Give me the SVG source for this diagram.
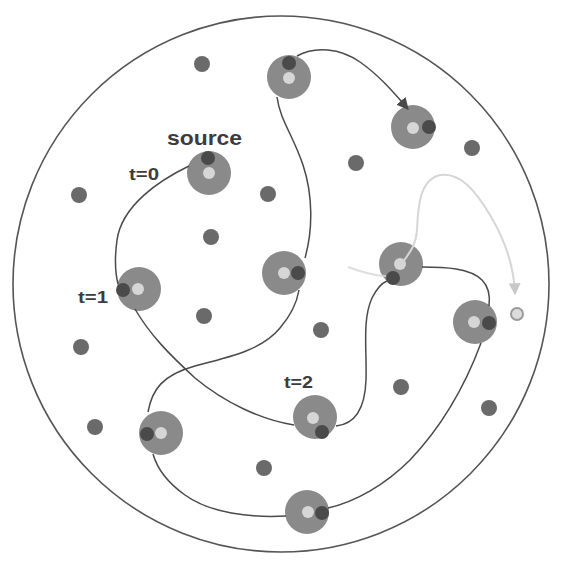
<svg xmlns="http://www.w3.org/2000/svg" width="562" height="564" viewBox="0 0 562 564">
<defs>
<style>
.halo{fill:#8a8a8a}
.dark{fill:#4a4a4a}
.light{fill:#d6d6d6}
.dot{fill:#6a6a6a}
.edge{fill:none;stroke:#4a4a4a;stroke-width:1.5}
.ghost{fill:none;stroke:#d6d6d6;stroke-width:2}
.lbl{font-family:"Liberation Sans",Arial,sans-serif;font-weight:bold;fill:#3c3c3c}
</style>
<marker id="arrD" viewBox="0 0 10 10" refX="9" refY="5" markerWidth="12" markerHeight="12" markerUnits="userSpaceOnUse" orient="auto">
<path d="M0,0 L10,5 L0,10 z" fill="#4a4a4a"/>
</marker>
<marker id="arrL" viewBox="0 0 10 10" refX="9" refY="5" markerWidth="12" markerHeight="12" markerUnits="userSpaceOnUse" orient="auto">
<path d="M0,0 L10,5 L0,10 z" fill="#c8c8c8"/>
</marker>
</defs>
<rect width="562" height="564" fill="#fff"/>
<circle id="domain" cx="281" cy="284" r="268" fill="none" stroke="#555" stroke-width="1.6"/>

<g id="scatter">
<circle class="dot" cx="202" cy="64" r="8"/>
<circle class="dot" cx="79" cy="195" r="8"/>
<circle class="dot" cx="268" cy="194" r="8"/>
<circle class="dot" cx="356" cy="163" r="8"/>
<circle class="dot" cx="472" cy="148" r="8"/>
<circle class="dot" cx="211" cy="237" r="8"/>
<circle class="dot" cx="204" cy="316" r="8"/>
<circle class="dot" cx="81" cy="347" r="8"/>
<circle class="dot" cx="321" cy="330" r="8"/>
<circle class="dot" cx="401" cy="387" r="8"/>
<circle class="dot" cx="489" cy="408" r="8"/>
<circle class="dot" cx="95" cy="427" r="8"/>
<circle class="dot" cx="264" cy="468" r="8"/>
</g>

<g id="n-source"><circle class="halo" cx="209" cy="173" r="22"/><circle class="dark" cx="208" cy="158" r="7"/><circle class="light" cx="209" cy="173" r="6"/></g>
<g id="n-top"><circle class="halo" cx="289" cy="77" r="22"/><circle class="dark" cx="289" cy="63" r="7"/><circle class="light" cx="289" cy="78" r="6"/></g>
<g id="n-upright"><circle class="halo" cx="413" cy="127" r="22"/><circle class="dark" cx="429" cy="127" r="7"/><circle class="light" cx="413" cy="128" r="6"/></g>
<g id="n-center"><circle class="halo" cx="284" cy="273" r="22"/><circle class="dark" cx="298" cy="273" r="7"/><circle class="light" cx="284" cy="273" r="6"/></g>
<g id="n-t1"><circle class="halo" cx="139" cy="289" r="22"/><circle class="dark" cx="123" cy="290" r="7"/><circle class="light" cx="138" cy="289" r="6"/></g>
<g id="n-midright"><circle class="halo" cx="401" cy="264" r="22"/><circle class="dark" cx="393" cy="278" r="7"/><circle class="light" cx="400" cy="264" r="6"/></g>
<g id="n-farright"><circle class="halo" cx="475" cy="322" r="22"/><circle class="dark" cx="489" cy="323" r="7"/><circle class="light" cx="474" cy="322" r="6"/></g>
<g id="n-t2"><circle class="halo" cx="315" cy="417" r="22"/><circle class="dark" cx="322" cy="432" r="7"/><circle class="light" cx="313" cy="418" r="6"/></g>
<g id="n-botleft"><circle class="halo" cx="161" cy="433" r="22"/><circle class="dark" cx="147" cy="434" r="7"/><circle class="light" cx="161" cy="433" r="6"/></g>
<g id="n-bottom"><circle class="halo" cx="307" cy="512" r="22"/><circle class="dark" cx="322" cy="513" r="7"/><circle class="light" cx="308" cy="512" r="6"/></g>
<g id="n-target"><circle cx="517" cy="314" r="6" fill="#dcdcdc" stroke="#9a9a9a" stroke-width="2"/></g>

<g id="connectors">
<path class="edge" d="M189,166 C160,180 122,205 117,240 C114,262 116,276 118,284"/>
<path class="edge" d="M135,309 C150,335 170,355 195,378 C225,403 262,420 294,425"/>
<path class="edge" d="M336,426 C356,424 365,408 366,380 C367,350 362,320 372,298 C377,288 382,283 387,281"/>
<path class="edge" d="M422,267 C445,267 470,268 482,280 C490,288 490,298 489,306"/>
<path class="edge" d="M481,343 C468,378 448,420 410,460 C385,485 355,502 328,508"/>
<path class="edge" d="M286,516 C250,518 210,513 185,495 C168,483 157,468 153,454"/>
<path class="edge" d="M148,412 C152,390 162,375 195,366 C230,357 262,350 280,328 C292,314 297,302 299,290"/>
<path class="edge" d="M305,258 C313,230 313,195 303,165 C293,135 280,120 277,97"/>
<path class="edge" d="M297,56 C315,46 340,48 360,62 C380,76 395,94 408,109" marker-end="url(#arrD)"/>
<path class="ghost" d="M348,267 C362,272 375,276 386,276" opacity="0.8"/>
<path class="ghost" d="M403,262 C410,252 416,245 417,230 C418,205 420,180 440,175 C460,172 475,190 490,215 C505,240 514,265 515,294" marker-end="url(#arrL)"/>
</g>

<g id="labels">
<text class="lbl" x="167" y="145" font-size="21" textLength="75" lengthAdjust="spacingAndGlyphs">source</text>
<text class="lbl" x="129" y="180" font-size="16" textLength="30" lengthAdjust="spacingAndGlyphs">t=0</text>
<text class="lbl" x="78" y="303" font-size="16" textLength="30" lengthAdjust="spacingAndGlyphs">t=1</text>
<text class="lbl" x="284" y="388" font-size="16" textLength="29" lengthAdjust="spacingAndGlyphs">t=2</text>
</g>
</svg>
